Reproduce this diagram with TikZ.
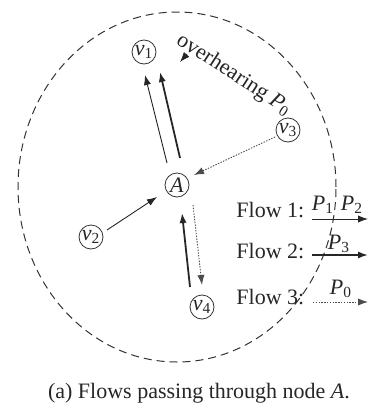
\documentclass[tikz,border=0pt]{standalone}
\usepackage{fontspec}
\setmainfont{Liberation Serif}
\usetikzlibrary{arrows.meta,calc}
\newcommand{\mysym}[2]{\textit{#1}\textsubscript{#2}}
\begin{document}
\begin{tikzpicture}[x=0.5pt,y=-0.5pt,
  vnode/.style={circle,draw=black!80,line width=0.4pt,minimum size=12pt,inner sep=0pt,text=black!85,font=\fontsize{11}{13}\selectfont},
  tipped/.style={-{Latex[length=5pt,width=3.6pt]}},
  flowone/.style={tipped,draw=black!85,line width=0.45pt},
  flowtwo/.style={tipped,draw=black!85,line width=0.9pt},
  flowthree/.style={tipped,draw=black!70,line width=0.45pt,dash pattern=on 0.7pt off 0.7pt},
  lbl/.style={font=\fontsize{11}{13}\selectfont,inner sep=0pt,text=black!85}]
\useasboundingbox (0,0) rectangle (368,412);
\draw[black!80,line width=0.5pt,dash pattern=on 4pt off 2.5pt] (177,187) ellipse [x radius=79.5pt,y radius=87.5pt];

\node[vnode] (v1) at (144,52) {\mysym{v}{1}};
\node[vnode] (v3) at (288,130) {\mysym{v}{3}};
\node[vnode] (A) at (177,185) {\textit{A}};
\node[vnode] (v2) at (91,237) {\mysym{v}{2}};
\node[vnode] (v4) at (202,307) {\mysym{v}{4}};

\draw[flowone] ($(A)+(-10,-22)$) -- ($(v1)+(1,23)$);
\draw[flowtwo] ($(A)+(3,-27)$) -- ($(v1)+(16,20)$);
\draw[flowthree] ($(v3)+(-13,7)$) -- ($(A)+(17,-10)$);
\draw[flowone] ($(v2)+(16,-7)$) -- ($(A)+(-20,12)$);
\draw[flowtwo] ($(v4)+(-12,-20)$) -- ($(A)+(5,28)$);
\draw[flowthree] ($(A)+(16,20)$) -- ($(v4)+(0,-22)$);

\coordinate (ovs) at (187,54);
\coordinate (ovh) at (180,62);
\draw[-{Latex[length=5pt,width=3.6pt]},draw=black!85,line width=0.4pt] (ovs) -- (ovh);
\node[lbl,rotate=-33] (ovl) at (234,75) {overhearing \mysym{P}{0}};

\node[lbl,anchor=west] (f1) at (236,210) {Flow 1:};
\coordinate (f1s) at (312,219);
\coordinate (f1e) at (368,219);
\draw[flowone] (f1s) -- (f1e);
\node[lbl] (p1) at (323,205) {\mysym{P}{1}};
\node[lbl] (p2) at (352,205) {\mysym{P}{2}};

\node[lbl,anchor=west] (f2) at (236,251) {Flow 2:};
\coordinate (f2s) at (312,255);
\coordinate (f2e) at (368,255);
\draw[flowtwo] (f2s) -- (f2e);
\node[lbl] (p3) at (339,244) {\mysym{P}{3}};

\node[lbl,anchor=west] (f3) at (236,297) {Flow 3:};
\coordinate (f3s) at (313,302);
\coordinate (f3e) at (368,302);
\draw[flowthree] (f3s) -- (f3e);
\node[lbl] (p0) at (341,289) {\mysym{P}{0}};

\node[lbl] (cap) at (199,393) {(a) Flows passing through node \textit{A}.};
\end{tikzpicture}
\end{document}
